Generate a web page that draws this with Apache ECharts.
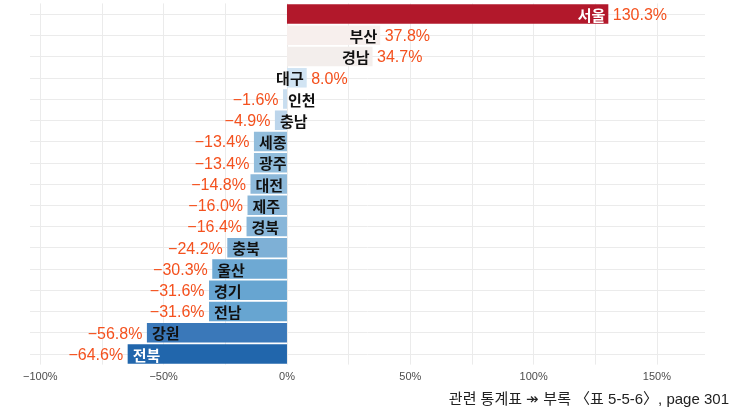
<!DOCTYPE html>
<html><head><meta charset="utf-8">
<script src="https://cdn.jsdelivr.net/npm/echarts@6/dist/echarts.min.js"></script>
<style>html,body{margin:0;padding:0;background:#fff}#c{width:741px;height:412px}</style>
</head><body><div id="c"></div>
<script>
const regions = ['서울','부산','경남','대구','인천','충남','세종','광주','대전','제주','경북','충북','울산','경기','전남','강원','전북'];
const changePct = [130.3,37.8,34.7,8.0,-1.6,-4.9,-13.4,-13.4,-14.8,-16.0,-16.4,-24.2,-30.3,-31.6,-31.6,-56.8,-64.6];
const barColors = ['#b2182b','#f7efed','#f3eeec','#d1e4f3','#c8ddef','#bcd5eb','#92bddc','#92bddc','#8db9da','#8ab7d9','#88b6d9','#7eb0d6','#6ea9d3','#67a5d1','#67a5d1','#3a78b9','#2166ac'];
const gridTicks = [-100,-75,-50,-25,0,25,50,75,100,125,150];
const labelTicks = [-100,-50,0,50,100,150];
const caption = '관련 통계표 ↠ 부록 〈표 5-5-6〉, page 301';

const fmt = v => (v < 0 ? '\u2212' : '') + Math.abs(v).toFixed(1) + '%';
const whiteText = ['서울','전북'];
const font = '"Liberation Sans", "Noto Sans CJK KR", sans-serif';

const chart = echarts.init(document.getElementById('c'), null, {renderer:'canvas'});
chart.setOption({
  animation: false,
  backgroundColor: '#fff',
  textStyle: {fontFamily: font},
  title: {
    text: caption, right: 7, top: 387,
    textStyle: {fontFamily: font, fontSize: 15, fontWeight: 'normal', color: '#222'}
  },
  grid: {left: 30, right: 36, top: 3.4, bottom: 47.4, containLabel: false},
  xAxis: {
    type: 'value', min: -104.2, max: 169.5,
    axisLine: {show: false},
    axisTick: {show: false, customValues: gridTicks},
    axisLabel: {customValues: labelTicks, formatter: v => (v < 0 ? '\u2212' : '') + Math.abs(v) + '%', color: '#4d4d4d', fontSize: 11, margin: 7, fontFamily: font},
    splitLine: {show: true, lineStyle: {color: '#ebebeb', width: 1}}
  },
  yAxis: {
    type: 'category', data: regions, inverse: true,
    axisLine: {show: false}, axisTick: {show: false}, axisLabel: {show: false},
    splitLine: {show: true, alignWithLabel: true, lineStyle: {color: '#ebebeb', width: 1}}
  },
  series: [
    {
      type: 'bar', barCategoryGap: '8%', z: 3,
      data: changePct.map((v, i) => ({
        value: v,
        itemStyle: {color: barColors[i]},
        label: {
          show: true,
          position: v >= 0 ? 'insideRight' : 'insideLeft',
          distance: v >= 0 ? 3 : 5,
          offset: [0, 1],
          formatter: regions[i],
          color: whiteText.includes(regions[i]) ? '#fff' : '#111',
          fontSize: 15, fontWeight: 'bold', fontFamily: '"Noto Sans CJK KR", sans-serif'
        }
      }))
    },
    {
      type: 'bar', barCategoryGap: '8%', barGap: '-100%', z: 4, silent: true,
      itemStyle: {color: 'rgba(0,0,0,0)'},
      data: changePct.map((v, i) => ({
        value: v,
        label: {
          show: true,
          position: v >= 0 ? 'right' : 'left',
          distance: 4.5,
          offset: [0, 1.5],
          formatter: fmt(v),
          color: '#f4511e', fontSize: 16, fontFamily: font
        }
      }))
    }
  ]
});
</script></body></html>
